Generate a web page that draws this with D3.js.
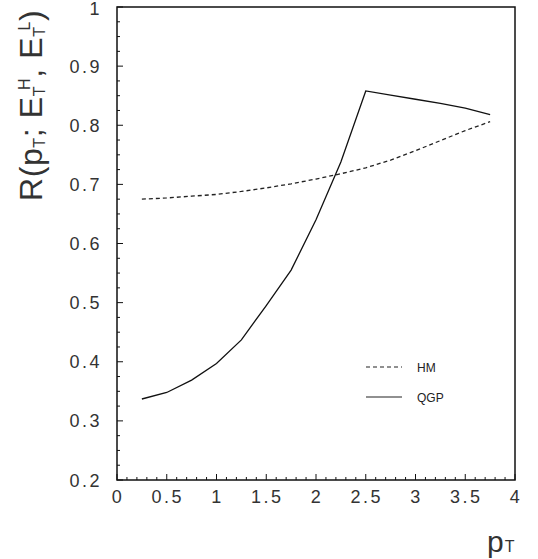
<!DOCTYPE html>
<html><head><meta charset="utf-8">
<script src="https://cdn.jsdelivr.net/npm/d3@7"></script>
<style>body{margin:0;background:#fff}svg{display:block}</style>
</head><body>
<script>
const pT = [0.25,0.5,0.75,1.0,1.25,1.5,1.75,2.0,2.25,2.5,2.75,3.0,3.25,3.5,3.75];
const hmValues  = [0.675,0.677,0.680,0.683,0.688,0.694,0.701,0.709,0.718,0.728,0.741,0.757,0.774,0.791,0.806];
const qgpValues = [0.337,0.348,0.369,0.397,0.437,0.495,0.555,0.640,0.738,0.858,0.851,0.844,0.837,0.829,0.818];
const xTickLabels = ["0","0.5","1","1.5","2","2.5","3","3.5","4"];
const yTickLabels = ["0.2","0.3","0.4","0.5","0.6","0.7","0.8","0.9","1"];
const seriesNames = ["HM","QGP"];

const W=538,H=559;
const m={l:117,r:23,t:7,b:79};
const svg=d3.select("body").append("svg").attr("width",W).attr("height",H);
const x=d3.scaleLinear().domain([0,4]).range([m.l,W-m.r]);
const y=d3.scaleLinear().domain([0.2,1]).range([H-m.b,m.t]);
const font="'Liberation Sans', Arial, sans-serif";
const col="#111";

// frame
svg.append("rect").attr("x",x(0)).attr("y",y(1)).attr("width",x(4)-x(0)).attr("height",y(0.2)-y(1))
  .attr("fill","none").attr("stroke",col).attr("stroke-width",1.5);

// x ticks (inward)
const xMinor=d3.range(0,41).map(i=>i/10);
svg.append("g").selectAll("line").data(xMinor).join("line")
  .attr("x1",d=>x(d)).attr("x2",d=>x(d))
  .attr("y1",y(0.2)).attr("y2",(d,i)=>y(0.2)-(i%5===0?6:3))
  .attr("stroke",col).attr("stroke-width",1);
// y ticks (inward)
const yMinor=d3.range(0,33).map(i=>0.2+i*0.025);
svg.append("g").selectAll("line").data(yMinor).join("line")
  .attr("y1",d=>y(d)).attr("y2",d=>y(d))
  .attr("x1",x(0)).attr("x2",(d,i)=>x(0)+(i%4===0?6:3))
  .attr("stroke",col).attr("stroke-width",1);

// tick labels
svg.append("g").selectAll("text").data(xTickLabels).join("text")
  .attr("x",d=>x(+d)+1).attr("y",y(0.2)+23).attr("text-anchor","middle")
  .attr("font-family",font).attr("font-size",18).attr("letter-spacing",2.5)
  .attr("fill","#333").text(d=>d);
svg.append("g").selectAll("text").data(yTickLabels).join("text")
  .attr("x",x(0)-15).attr("y",d=>Math.max(y(+d)+6.5,14.5)).attr("text-anchor","end")
  .attr("font-family",font).attr("font-size",18).attr("letter-spacing",2.5)
  .attr("fill","#333").text(d=>d);

// curves
const line=d3.line().x(d=>x(d[0])).y(d=>y(d[1]));
svg.append("path").datum(pT.map((v,i)=>[v,hmValues[i]])).attr("d",line)
  .attr("fill","none").attr("stroke","#222").attr("stroke-width",1.3).attr("stroke-dasharray","4,3");
svg.append("path").datum(pT.map((v,i)=>[v,qgpValues[i]])).attr("d",line)
  .attr("fill","none").attr("stroke","#111").attr("stroke-width",1.3);

// legend
const lg=svg.append("g");
[0,1].forEach(i=>{
  const ly=367+i*30;
  lg.append("line").attr("x1",366).attr("x2",402).attr("y1",ly).attr("y2",ly)
    .attr("stroke","#222").attr("stroke-width",1.2).attr("stroke-dasharray",i===0?"4,3":null);
  lg.append("text").attr("x",417).attr("y",ly+4.5).attr("font-family",font).attr("font-size",12)
    .attr("fill","#222").text(seriesNames[i]);
});

// x axis title
const xt=svg.append("text").attr("x",487).attr("y",552).attr("font-family",font).attr("font-size",30).attr("fill","#333");
xt.append("tspan").text("p");
xt.append("tspan").attr("font-size",16).attr("dx",1).text("T");

// y axis title
const yt=svg.append("text").attr("transform","translate(42,201) rotate(-90)")
  .attr("font-family",font).attr("font-size",32).attr("fill","#333").attr("letter-spacing",0.6);
yt.append("tspan").text("R(p");
yt.append("tspan").attr("font-size",16).attr("dy",3).text("T");
yt.append("tspan").attr("dy",-3).text("; E");
yt.append("tspan").attr("font-size",16).attr("dy",3).text("T");
yt.append("tspan").attr("font-size",16).attr("dx",-4).attr("dy",-15).text("H");
yt.append("tspan").attr("dy",12).text(", E");
yt.append("tspan").attr("font-size",16).attr("dy",3).text("T");
yt.append("tspan").attr("font-size",16).attr("dx",-4).attr("dy",-15).text("L");
yt.append("tspan").attr("dy",12).text(")");
</script>
</body></html>
